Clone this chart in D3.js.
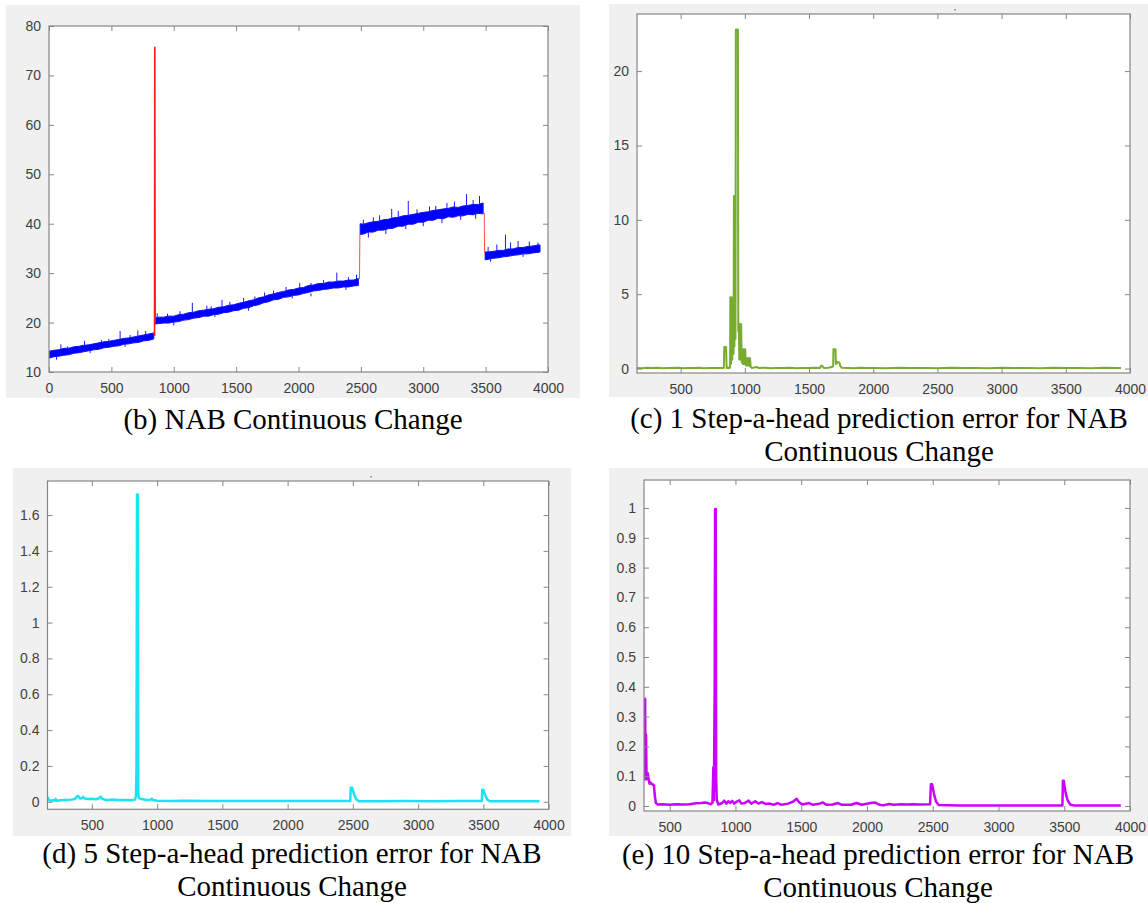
<!DOCTYPE html>
<html>
<head>
<meta charset="utf-8">
<script src="https://cdn.jsdelivr.net/npm/d3@7"></script>
<style>
  body { margin: 0; background: #ffffff; }
  .cap { font-family: "Liberation Serif", "Times New Roman", serif; font-size: 29px; fill: #000; }
</style>
</head>
<body>
<svg id="fig" width="1148" height="903"></svg>
<script>
// ---------- (b) NAB continuous change: raw signal ----------
// noisy band sampled along x, segments separated by null
const bandX = [
  0,40,80,120,160,200,240,280,320,360,400,440,480,520,560,600,640,680,720,760,800,840, null,
  852,880,920,960,1000,1040,1080,1120,1160,1200,1240,1280,1320,1360,1400,1440,1480,1520,1560,1600,1640,1680,1720,1760,1800,1840,1880,1920,1960,2000,2040,2080,2120,2160,2200,2240,2280,2320,2360,2400,2440,2480, null,
  2494,2520,2560,2600,2640,2680,2720,2760,2800,2840,2880,2920,2960,3000,3040,3080,3120,3160,3200,3240,3280,3320,3360,3400,3440,3480, null,
  3496,3520,3560,3600,3640,3680,3720,3760,3800,3840,3880,3920,3936
];
const bandLow = [
  12.8,13.1,13.2,13.4,13.5,13.8,13.9,14.1,14.3,14.5,14.6,14.9,15.0,15.2,15.3,15.6,15.7,15.9,16.0,16.3,16.4,16.7, null,
  19.7,19.8,19.9,19.9,20.1,20.2,20.5,20.6,20.9,21.0,21.3,21.3,21.6,21.7,22.0,22.1,22.4,22.5,22.9,23.0,23.4,23.6,24.0,24.2,24.6,24.7,25.1,25.2,25.5,25.6,25.9,26.1,26.4,26.5,26.7,26.8,27.0,27.0,27.2,27.2,27.4,27.5, null,
  37.8,37.9,38.3,38.3,38.7,38.7,39.0,39.1,39.5,39.5,39.9,39.9,40.3,40.3,40.7,40.7,41.1,41.0,41.4,41.3,41.6,41.6,41.9,41.8,42.1,42.0, null,
  32.7,32.8,33.0,33.1,33.3,33.4,33.6,33.7,33.9,33.9,34.1,34.2,34.3
];
const bandHigh = [
  14.2,14.4,14.5,14.8,14.8,15.1,15.2,15.4,15.5,15.7,15.9,16.1,16.2,16.4,16.6,16.8,16.9,17.1,17.3,17.5,17.7,17.9, null,
  21.0,21.1,21.1,21.3,21.3,21.6,21.7,22.0,22.1,22.4,22.5,22.7,22.8,23.1,23.2,23.5,23.6,23.9,24.1,24.4,24.6,25.0,25.2,25.6,25.8,26.1,26.3,26.6,26.7,27.0,27.1,27.5,27.6,27.9,27.9,28.2,28.2,28.4,28.4,28.6,28.6,28.9, null,
  40.0,39.9,40.2,40.4,40.5,40.8,40.9,41.2,41.3,41.6,41.7,41.9,42.1,42.3,42.4,42.7,42.8,43.0,43.1,43.4,43.3,43.6,43.7,43.9,43.9,44.2, null,
  34.3,34.3,34.4,34.6,34.6,34.9,34.9,35.2,35.2,35.4,35.5,35.7,35.7
];
// isolated upward spikes of the signal
const spikeX    = [95, 150, 285, 420, 480, 570, 650, 712, 775,
                   867, 950, 1050, 1149, 1265, 1300, 1387, 1450, 1560, 1650, 1728, 1800, 1900, 2010, 2100, 2200, 2307, 2400, 2465,
                   2520, 2600, 2650, 2747, 2800, 2880, 2950, 3050, 3100, 3190, 3250, 3347, 3400, 3451,
                   3520, 3590, 3659, 3700, 3760, 3850, 3920];
const spikeBase = [14.5, 14.8, 15.4, 15.9, 16.2, 16.6, 16.9, 17.3, 17.6,
                   21.1, 21.3, 21.5, 22.0, 22.5, 22.7, 23.1, 23.5, 24.1, 24.7, 25.2, 25.8, 26.6, 27.0, 27.5, 28.0, 28.3, 28.6, 28.8,
                   39.9, 40.4, 40.6, 41.2, 41.3, 41.7, 42.0, 42.3, 42.6, 43.0, 43.4, 43.6, 43.9, 44.0,
                   34.3, 34.5, 34.8, 34.9, 35.2, 35.4, 35.7];
const spikeTop  = [15.6, 15.2, 16.3, 16.5, 16.7, 18.3, 17.5, 18.4, 18.3,
                   21.9, 21.8, 22.3, 24.0, 23.4, 23.3, 24.6, 24.2, 25.0, 25.3, 26.1, 26.5, 27.2, 28.0, 28.0, 28.6, 30.1, 29.2, 29.7,
                   40.8, 41.3, 41.7, 43.0, 42.6, 44.6, 42.9, 43.5, 43.6, 44.2, 44.5, 46.0, 44.8, 45.6,
                   35.3, 35.8, 37.8, 36.2, 36.5, 36.4, 36.2];
// short downward dips below the band
const dipX      = [60, 330, 610, 1000, 1330, 1600, 1950, 2100, 2380, 2560, 2700, 2860, 3000, 3150, 3300, 3420, 3540, 3800];
const dipBase   = [13.1, 14.4, 15.6, 20.1, 21.7, 23.0, 25.4, 25.9, 27.2, 38.3, 39.0, 39.6, 40.3, 41.0, 41.6, 41.9, 33.0, 33.9];
const dipBottom = [12.5, 13.8, 15.1, 19.4, 21.1, 22.4, 24.9, 25.3, 26.6, 37.2, 37.9, 38.9, 39.5, 40.1, 40.8, 41.0, 32.3, 33.3];
// anomalous stretches drawn in red
const anomalySpikeX = [846, 848, 851];
const anomalySpikeY = [17.3, 75.8, 20.3];
const anomalyStepX  = [2489, 2492, null, 3489, 3492];
const anomalyStepY  = [28.8, 38.0, null, 42.2, 34.0];

// ---------- (c) 1-step-ahead prediction error ----------
const err1X = [160,200,240,280,320,360,400,440,480,520,560,600,640,680,720,760,800,836,840,854,858,870,882,
  885,887,892,897,902,907,912,915,919,923,927,930,946,949,953,957,961,966,971,976,980,986,992,998,1003,1008,1016,1022,1028,1034,1040,1046,1052,
  1070,1090,1110,1150,1200,1250,1300,1350,1400,1450,1500,1550,1585,1595,1605,1615,1650,1675,1688,1690,1706,1709,1716,1722,1736,1742,1755,
  1800,1850,1900,1950,2000,2100,2200,2300,2400,2500,2600,2700,2800,2900,3000,3100,3200,3300,3400,3500,3600,3700,3800,3900,3930];
const err1Y = [0.04,0.02,0.05,0.03,0.05,0.02,0.04,0.03,0.05,0.02,0.04,0.03,0.05,0.02,0.04,0.03,0.04,0.03,1.45,1.45,0.03,0.05,0.04,
  0.1,4.8,0.3,4.8,0.6,4.7,1.0,11.6,1.5,11.6,2.0,22.8,22.8,2.5,3.0,0.6,3.0,0.6,3.0,0.4,1.3,0.3,1.3,0.3,1.3,0.2,0.7,0.2,0.7,0.2,0.7,0.1,0.05,
  0.06,0.1,0.04,0.05,0.02,0.04,0.03,0.05,0.02,0.04,0.03,0.05,0.04,0.2,0.15,0.04,0.05,0.1,0.15,1.3,1.3,0.3,0.35,0.45,0.4,0.2,0.05,
  0.04,0.02,0.05,0.03,0.04,0.02,0.05,0.03,0.04,0.02,0.05,0.03,0.04,0.02,0.05,0.03,0.04,0.02,0.05,0.03,0.04,0.02,0.05,0.03,0.03];

// ---------- (d) 5-step-ahead prediction error ----------
const err5X = [160,170,180,200,215,222,230,260,300,340,370,385,395,405,420,432,445,470,500,530,555,568,580,610,650,700,750,800,830,838,842,846,852,856,860,880,920,950,958,966,1000,
  1100,1200,1400,1600,1800,2000,2200,2400,2480,2484,2495,2510,2525,2545,2700,2900,3100,3300,3488,3492,3500,3515,3530,3550,3700,3930];
const err5Y = [0.028,0.01,0.006,0.008,0.006,0.016,0.006,0.008,0.01,0.012,0.015,0.03,0.032,0.02,0.018,0.028,0.018,0.015,0.017,0.014,0.02,0.028,0.016,0.01,0.012,0.01,0.01,0.008,0.012,0.03,0.2,1.715,1.715,0.05,0.02,0.015,0.01,0.012,0.018,0.01,0.006,
  0.005,0.006,0.004,0.005,0.004,0.005,0.004,0.005,0.005,0.078,0.078,0.04,0.015,0.003,0.003,0.004,0.003,0.004,0.004,0.068,0.066,0.035,0.012,0.003,0.003,0.003];

// ---------- (e) 10-step-ahead prediction error ----------
const err10X = [305,307,310,313,316,320,324,328,333,340,346,352,360,372,380,388,395,410,450,500,550,600,650,700,740,770,790,810,825,832,836,842,845,850,853,858,870,
  900,915,930,945,960,975,990,1010,1030,1045,1070,1100,1120,1150,1175,1200,1230,1260,1290,1320,1350,1400,1440,1465,1485,1510,1560,1590,1640,1665,1690,1740,1780,1810,1880,1920,1960,2030,2060,2090,2120,2170,2200,2260,2300,2350,2400,2480,
  2486,2495,2510,2525,2545,2700,3000,3300,3486,3490,3496,3510,3525,3545,3570,3800,3930];
const err10Y = [0.09,0.23,0.09,0.36,0.09,0.24,0.09,0.1,0.11,0.09,0.075,0.08,0.075,0.072,0.07,0.03,0.01,0.005,0.006,0.004,0.006,0.005,0.006,0.009,0.01,0.012,0.01,0.006,0.01,0.13,0.02,0.4,0.997,0.997,0.1,0.02,0.005,
  0.01,0.018,0.008,0.016,0.01,0.017,0.008,0.015,0.019,0.008,0.01,0.018,0.008,0.016,0.008,0.013,0.007,0.008,0.004,0.01,0.004,0.008,0.015,0.024,0.012,0.005,0.01,0.004,0.008,0.012,0.004,0.005,0.01,0.004,0.004,0.01,0.004,0.01,0.012,0.005,0.002,0.007,0.004,0.006,0.005,0.006,0.005,0.006,
  0.073,0.073,0.04,0.015,0.003,0.002,0.002,0.002,0.002,0.085,0.085,0.045,0.02,0.005,0.002,0.002,0.002];

// ---------- tick values ----------
const ticksXFull = [0, 500, 1000, 1500, 2000, 2500, 3000, 3500, 4000];
const ticksXErr  = [500, 1000, 1500, 2000, 2500, 3000, 3500, 4000];
const ticksYSignal = [10, 20, 30, 40, 50, 60, 70, 80];
const ticksYErr1  = [0, 5, 10, 15, 20];
const ticksYErr5  = [0, 0.2, 0.4, 0.6, 0.8, 1, 1.2, 1.4, 1.6];
const ticksYErr10 = [0, 0.1, 0.2, 0.3, 0.4, 0.5, 0.6, 0.7, 0.8, 0.9, 1];

const svg = d3.select("#fig");
const AXIS = "#868686";
const LABEL = "#3f3f3f";

// one MATLAB-style axes: grey figure, white plotting box, inward ticks on every side
function makePanel(o) {
  svg.append("rect")
    .attr("x", o.bg[0]).attr("y", o.bg[1])
    .attr("width", o.bg[2] - o.bg[0]).attr("height", o.bg[3] - o.bg[1])
    .attr("fill", "#f0f0f0");
  const [l, t, r, b] = o.box;
  const g = svg.append("g");
  g.append("rect").attr("x", l).attr("y", t).attr("width", r - l).attr("height", b - t).attr("fill", "#ffffff");
  const x = d3.scaleLinear().domain(o.xDomain).range([l, r]);
  const y = d3.scaleLinear().domain(o.yDomain).range([b, t]);
  svg.append("clipPath").attr("id", "clip-" + o.id)
    .append("rect").attr("x", l).attr("y", t).attr("width", r - l).attr("height", b - t);
  const marks = g.append("g").attr("clip-path", `url(#clip-${o.id})`);
  return { g, marks, x, y, l, t, r, b };
}

function drawAxes(p, xt, yt) {
  const { g, x, y, l, t, r, b } = p;
  const style = sel => {
    sel.select(".domain").remove();
    sel.attr("font-family", "'Liberation Sans', Arial, sans-serif").attr("font-size", 14);
    sel.selectAll("line").attr("stroke", AXIS).attr("stroke-width", 1);
    sel.selectAll("text").attr("fill", LABEL);
  };
  g.append("g").attr("transform", `translate(0,${b})`)
    .call(d3.axisBottom(x).tickValues(xt).tickSize(-5).tickPadding(11).tickFormat(d => String(d))).call(style);
  g.append("g").attr("transform", `translate(0,${t})`)
    .call(d3.axisTop(x).tickValues(xt).tickSize(-5).tickFormat("")).call(style);
  g.append("g").attr("transform", `translate(${l},0)`)
    .call(d3.axisLeft(y).tickValues(yt).tickSize(-5).tickPadding(8).tickFormat(d => String(d))).call(style);
  g.append("g").attr("transform", `translate(${r},0)`)
    .call(d3.axisRight(y).tickValues(yt).tickSize(-5).tickFormat("")).call(style);
  g.append("rect").attr("x", l).attr("y", t).attr("width", r - l).attr("height", b - t)
    .attr("fill", "none").attr("stroke", AXIS).attr("stroke-width", 1.2);
}

function caption(lines, cx, y0) {
  lines.forEach((s, i) => {
    svg.append("text").attr("class", "cap").attr("x", cx).attr("y", y0 + i * 33)
      .attr("text-anchor", "middle").text(s);
  });
}

function errorLine(p, xs, ys, color, width) {
  const line = d3.line().x(i => p.x(xs[i])).y(i => p.y(ys[i]));
  p.marks.append("path").attr("d", line(d3.range(xs.length)))
    .attr("fill", "none").attr("stroke", color).attr("stroke-width", width)
    .attr("stroke-linejoin", "round");
}

// vertical strokes from a base value to a tip value
function ticksAt(p, xs, from, to, color) {
  p.marks.append("g").selectAll("line").data(d3.range(xs.length)).join("line")
    .attr("x1", i => p.x(xs[i])).attr("x2", i => p.x(xs[i]))
    .attr("y1", i => p.y(from[i])).attr("y2", i => p.y(to[i]))
    .attr("stroke", color).attr("stroke-width", 1);
}

// ---- (b) ----
const pb = makePanel({ id: "b", bg: [6, 5, 580, 398], box: [49, 26, 548, 372], xDomain: [0, 4000], yDomain: [10, 80] });
{
  const idx = d3.range(bandX.length);
  const area = d3.area().defined(i => bandX[i] !== null)
    .x(i => pb.x(bandX[i])).y0(i => pb.y(bandLow[i])).y1(i => pb.y(bandHigh[i]));
  pb.marks.append("path").attr("d", area(idx)).attr("fill", "#0000ff")
    .attr("stroke", "#1010ff").attr("stroke-width", 1).attr("stroke-linejoin", "bevel");
  ticksAt(pb, spikeX, spikeBase, spikeTop, "#1a1aff");
  ticksAt(pb, dipX, dipBase, dipBottom, "#1a1aff");
  const redA = d3.line().x(i => pb.x(anomalySpikeX[i])).y(i => pb.y(anomalySpikeY[i]));
  pb.marks.append("path").attr("d", redA(d3.range(anomalySpikeX.length)))
    .attr("fill", "none").attr("stroke", "#ff1a1a").attr("stroke-width", 1.6);
  const redB = d3.line().defined(i => anomalyStepX[i] !== null)
    .x(i => pb.x(anomalyStepX[i])).y(i => pb.y(anomalyStepY[i]));
  pb.marks.append("path").attr("d", redB(d3.range(anomalyStepX.length)))
    .attr("fill", "none").attr("stroke", "#ff4d4d").attr("stroke-width", 1);
}
drawAxes(pb, ticksXFull, ticksYSignal);
caption(["(b) NAB Continuous Change"], 293, 429);

// ---- (c) ----
const pc = makePanel({ id: "c", bg: [609, 4, 1148, 397], box: [637, 14, 1130, 373], xDomain: [160, 4000], yDomain: [-0.3, 23.84] });
errorLine(pc, err1X, err1Y, "#77ac30", 2);
drawAxes(pc, ticksXErr, ticksYErr1);
caption(["(c) 1 Step-a-head prediction error for NAB", "Continuous Change"], 879, 428);

// ---- (d) ----
const pd = makePanel({ id: "d", bg: [13, 468, 571, 836], box: [47.5, 481, 548.6, 809.3], xDomain: [160, 4000], yDomain: [-0.042, 1.79] });
errorLine(pd, err5X, err5Y, "#19e3f5", 2.5);
drawAxes(pd, ticksXErr, ticksYErr5);
caption(["(d) 5 Step-a-head prediction error for NAB", "Continuous Change"], 292, 863);

// ---- (e) ----
const pe = makePanel({ id: "e", bg: [609, 468, 1148, 836], box: [644, 480, 1130, 811], xDomain: [304.6, 4000], yDomain: [-0.0168, 1.094] });
errorLine(pe, err10X, err10Y, "#cc00ff", 2.5);
drawAxes(pe, ticksXErr, ticksYErr10);
caption(["(e) 10 Step-a-head prediction error for NAB", "Continuous Change"], 878, 864);

// tiny figure-window specks above panels (c) and (d)
svg.append("rect").attr("x", 954).attr("y", 9).attr("width", 2).attr("height", 1.5).attr("fill", "#9a9a9a");
svg.append("rect").attr("x", 370).attr("y", 476).attr("width", 2).attr("height", 1.5).attr("fill", "#9a9a9a");
</script>
</body>
</html>
